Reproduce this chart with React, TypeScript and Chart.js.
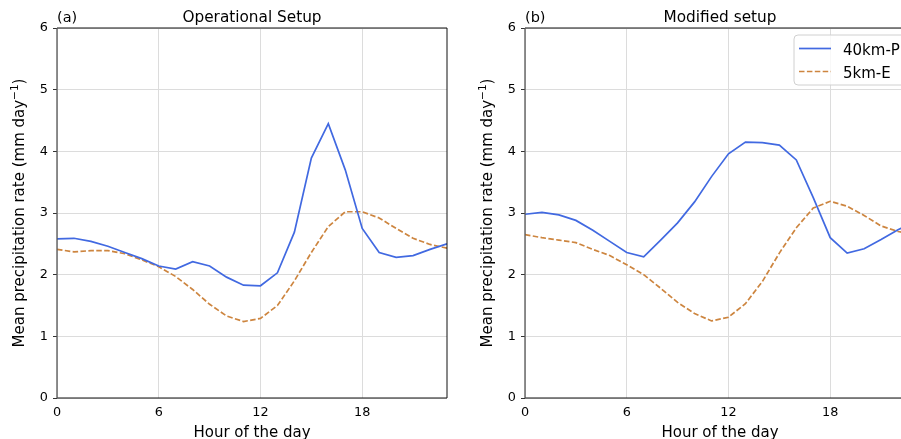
import React, { useEffect, useRef } from "react";
import { Chart, registerables } from "chart.js";

Chart.register(...registerables);

const hours = [0, 1, 2, 3, 4, 5, 6, 7, 8, 9, 10, 11, 12, 13, 14, 15, 16, 17, 18, 19, 20, 21, 22, 23];
const operationalP40 = [2.58, 2.59, 2.54, 2.46, 2.36, 2.26, 2.14, 2.09, 2.21, 2.14, 1.96, 1.83, 1.82, 2.03, 2.69, 3.89, 4.45, 3.70, 2.75, 2.36, 2.28, 2.31, 2.41, 2.50];
const operationalE5 = [2.41, 2.37, 2.39, 2.39, 2.34, 2.24, 2.13, 1.97, 1.76, 1.52, 1.33, 1.24, 1.29, 1.50, 1.90, 2.36, 2.78, 3.02, 3.02, 2.92, 2.75, 2.59, 2.49, 2.43];
const modifiedP40 = [2.98, 3.01, 2.97, 2.88, 2.72, 2.54, 2.36, 2.29, 2.56, 2.84, 3.18, 3.59, 3.96, 4.15, 4.14, 4.10, 3.86, 3.25, 2.60, 2.35, 2.42, 2.57, 2.73, 2.86];
const modifiedE5 = [2.65, 2.60, 2.56, 2.52, 2.41, 2.31, 2.16, 2.00, 1.78, 1.55, 1.37, 1.25, 1.31, 1.53, 1.89, 2.35, 2.76, 3.08, 3.19, 3.11, 2.96, 2.79, 2.70, 2.65];
const xTickValues = [0, 6, 12, 18];
const yTickValues = [0, 1, 2, 3, 4, 5, 6];
const seriesNames = ["40km-P", "5km-E"];
const panelTitles = ["Operational Setup", "Modified setup"];
const panelTags = ["(a)", "(b)"];
const xAxisTitle = "Hour of the day";
const yAxisTitleMain = "Mean precipitation rate (mm day";
const yAxisTitleSup = "\u22121";
const yAxisTitleEnd = ")";

const FONT = "'DejaVu Sans', sans-serif";
const BLUE = "#4169e1";
const ORANGE = "#cd853f";
const DASH = [5.5, 2.4];
const LW = 1.7;
const CW = 460;
const CH = 450;

function makeDecor(tag: string, title: string, showLegend: boolean) {
  return {
    id: "decor",
    afterDraw(chart: any) {
      const { ctx, chartArea: a } = chart;
      ctx.save();
      // frame
      ctx.lineWidth = 1;
      ctx.strokeStyle = "#111";
      ctx.beginPath();
      ctx.moveTo(a.left, a.top);
      ctx.lineTo(a.right, a.top);
      ctx.lineTo(a.right, a.bottom);
      ctx.lineTo(a.left, a.bottom);
      ctx.stroke();
      ctx.strokeStyle = "#555";
      ctx.lineWidth = 1.3;
      ctx.beginPath();
      ctx.moveTo(a.left, a.top);
      ctx.lineTo(a.left, a.bottom);
      ctx.stroke();
      // titles
      ctx.fillStyle = "#000";
      ctx.textBaseline = "alphabetic";
      ctx.font = `14.5px ${FONT}`;
      ctx.textAlign = "left";
      ctx.fillText(tag, a.left, 22);
      ctx.textAlign = "center";
      ctx.font = `15.3px ${FONT}`;
      ctx.fillText(title, (a.left + a.right) / 2, 22);
      // x axis title
      ctx.font = `15px ${FONT}`;
      ctx.fillText(xAxisTitle, (a.left + a.right) / 2, 437);
      // y axis title
      ctx.save();
      ctx.translate(24, (a.top + a.bottom) / 2);
      ctx.rotate(-Math.PI / 2);
      ctx.textAlign = "left";
      ctx.font = `15px ${FONT}`;
      const w1 = ctx.measureText(yAxisTitleMain).width;
      const w3 = ctx.measureText(yAxisTitleEnd).width;
      ctx.font = `10.5px ${FONT}`;
      const w2 = ctx.measureText(yAxisTitleSup).width;
      const total = w1 + w2 + w3;
      let x = -total / 2;
      ctx.font = `15px ${FONT}`;
      ctx.fillText(yAxisTitleMain, x, 0);
      x += w1;
      ctx.font = `10.5px ${FONT}`;
      ctx.fillText(yAxisTitleSup, x, -6);
      x += w2;
      ctx.font = `15px ${FONT}`;
      ctx.fillText(yAxisTitleEnd, x, 0);
      ctx.restore();
      // legend
      if (showLegend) {
        const bx = 326, by = 35, bw = 113, bh = 50, r = 4;
        ctx.beginPath();
        ctx.moveTo(bx + r, by);
        ctx.lineTo(bx + bw - r, by);
        ctx.quadraticCurveTo(bx + bw, by, bx + bw, by + r);
        ctx.lineTo(bx + bw, by + bh - r);
        ctx.quadraticCurveTo(bx + bw, by + bh, bx + bw - r, by + bh);
        ctx.lineTo(bx + r, by + bh);
        ctx.quadraticCurveTo(bx, by + bh, bx, by + bh - r);
        ctx.lineTo(bx, by + r);
        ctx.quadraticCurveTo(bx, by, bx + r, by);
        ctx.closePath();
        ctx.fillStyle = "rgba(255,255,255,0.8)";
        ctx.fill();
        ctx.strokeStyle = "#d0d0d0";
        ctx.lineWidth = 1;
        ctx.stroke();
        const rows = [
          { name: seriesNames[0], color: BLUE, dash: [] as number[], y: 48.5, base: 55 },
          { name: seriesNames[1], color: ORANGE, dash: DASH, y: 71.5, base: 77.5 },
        ];
        ctx.font = `15px ${FONT}`;
        ctx.textAlign = "left";
        for (const row of rows) {
          ctx.beginPath();
          ctx.setLineDash(row.dash);
          ctx.strokeStyle = row.color;
          ctx.lineWidth = LW;
          ctx.moveTo(331, row.y);
          ctx.lineTo(363, row.y);
          ctx.stroke();
          ctx.setLineDash([]);
          ctx.fillStyle = "#000";
          ctx.fillText(row.name, 375, row.base);
        }
      }
      ctx.restore();
    },
  };
}

function Panel(props: { left: number; p40: number[]; e5: number[]; tag: string; title: string; legend: boolean }) {
  const ref = useRef<HTMLCanvasElement | null>(null);
  useEffect(() => {
    const canvas = ref.current;
    if (!canvas) return;
    const chart = new Chart(canvas, {
      type: "line",
      data: {
        datasets: [
          {
            label: seriesNames[0],
            data: hours.map((h, i) => ({ x: h, y: props.p40[i] })),
            borderColor: BLUE,
            borderWidth: LW,
            pointRadius: 0,
            tension: 0,
            fill: false,
          },
          {
            label: seriesNames[1],
            data: hours.map((h, i) => ({ x: h, y: props.e5[i] })),
            borderColor: ORANGE,
            borderWidth: LW,
            borderDash: DASH,
            pointRadius: 0,
            tension: 0,
            fill: false,
          },
        ],
      },
      options: {
        responsive: false,
        animation: false,
        layout: { padding: { left: 0, top: 28, right: 13, bottom: 0 } },
        plugins: {
          legend: { display: false },
          tooltip: { enabled: false },
          title: { display: false },
        },
        scales: {
          x: {
            type: "linear",
            min: 0,
            max: 23,
            afterBuildTicks: (s: any) => {
              s.ticks = xTickValues.map((v) => ({ value: v }));
            },
            afterFit: (s: any) => {
              s.height = CH - 398;
            },
            grid: { color: "#dcdcdc", lineWidth: 1, drawTicks: false },
            border: { display: false },
            ticks: {
              color: "#000",
              font: { family: FONT, size: 12.8 },
              padding: 7,
              maxRotation: 0,
              autoSkip: false,
            },
          },
          y: {
            type: "linear",
            min: 0,
            max: 6,
            afterBuildTicks: (s: any) => {
              s.ticks = yTickValues.map((v) => ({ value: v }));
            },
            afterFit: (s: any) => {
              s.width = 57;
            },
            grid: { color: "#dcdcdc", lineWidth: 1, drawTicks: true, tickLength: 4, tickColor: "#333" },
            border: { display: false },
            ticks: {
              color: "#000",
              font: { family: FONT, size: 12.8 },
              padding: 5,
              autoSkip: false,
            },
          },
        },
      },
      plugins: [makeDecor(props.tag, props.title, props.legend)],
    } as any);
    return () => chart.destroy();
  }, []);
  return (
    <canvas
      ref={ref}
      width={CW}
      height={CH}
      style={{ position: "absolute", left: props.left, top: 0, width: CW, height: CH }}
    />
  );
}

export default function App() {
  return (
    <div
      style={{
        position: "absolute",
        left: 0,
        top: 0,
        width: 901,
        height: 439,
        overflow: "hidden",
        background: "#fff",
      }}
    >
      <Panel left={0} p40={operationalP40} e5={operationalE5} tag={panelTags[0]} title={panelTitles[0]} legend={false} />
      <Panel left={468} p40={modifiedP40} e5={modifiedE5} tag={panelTags[1]} title={panelTitles[1]} legend={true} />
    </div>
  );
}
